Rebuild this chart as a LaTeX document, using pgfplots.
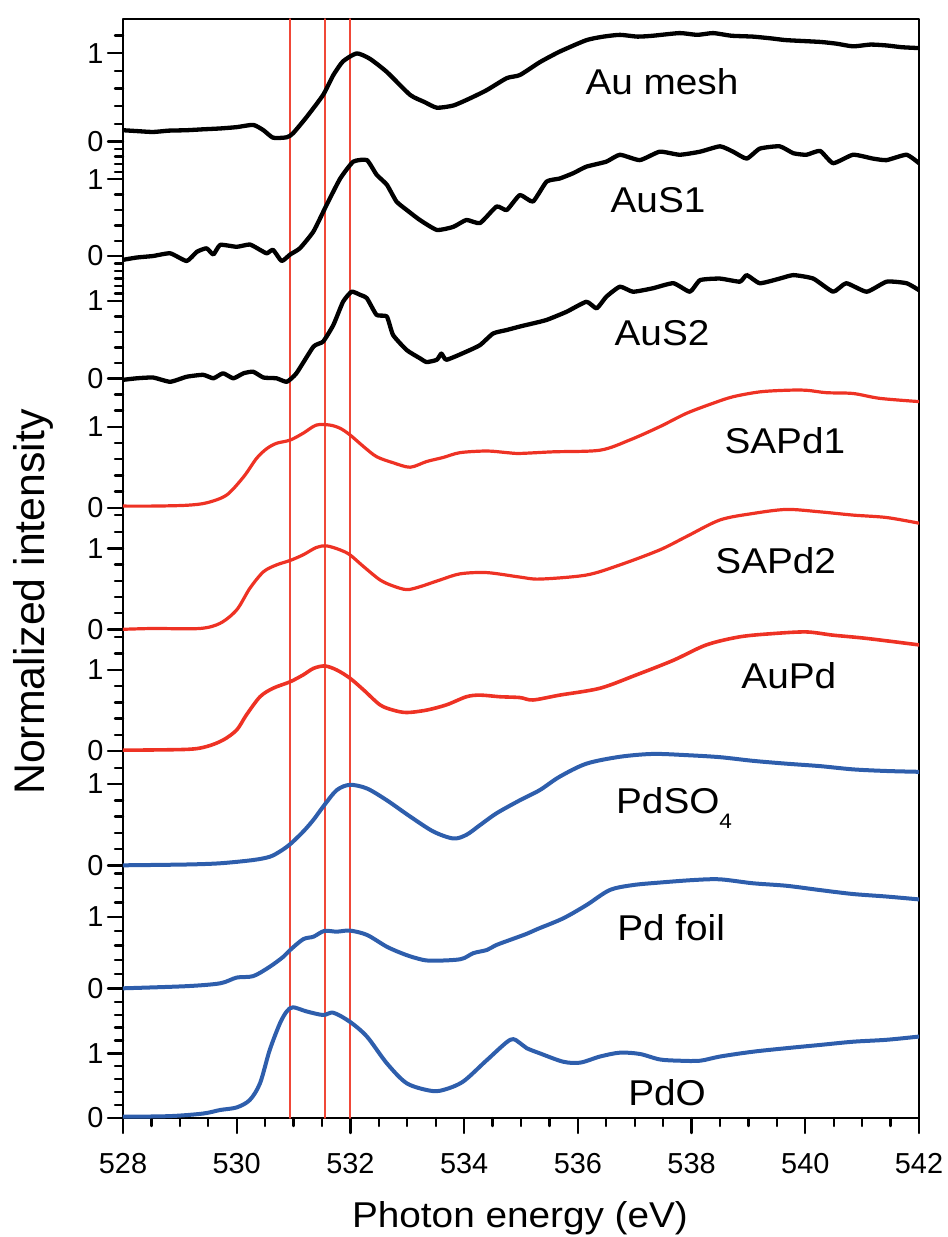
\documentclass[border=0pt]{standalone}
\usepackage{fontspec}
\setmainfont{Liberation Sans}
\newfontfamily\sfont{Liberation Sans}
\newfontfamily\stfont{Liberation Sans}[FakeStretch=1.08]
\usepackage{pgfplots}
\usepackage{pgfplotstable}
\pgfplotsset{compat=1.18}
\definecolor{cred}{RGB}{238,50,36}
\definecolor{cblue}{RGB}{46,94,172}
\definecolor{vline}{RGB}{240,72,56}

\pgfplotstableread{
E v
528.00 0.13
528.25 0.12
528.53 0.11
528.80 0.125
529.12 0.13
529.40 0.14
529.71 0.15
530.00 0.165
530.29 0.19
530.47 0.13
530.64 0.045
530.88 0.05
530.99 0.095
531.23 0.28
531.52 0.53
531.70 0.755
531.87 0.91
532.11 1.0
532.34 0.94
532.64 0.79
533.05 0.53
533.30 0.45
533.52 0.385
533.81 0.41
534.10 0.49
534.40 0.585
534.75 0.72
534.98 0.755
535.33 0.9
535.68 1.02
536.15 1.15
536.45 1.19
536.74 1.21
537.05 1.19
537.32 1.20
537.79 1.23
538.10 1.21
538.38 1.23
538.70 1.20
539.08 1.19
539.40 1.17
539.67 1.15
540.26 1.13
540.55 1.11
540.84 1.08
541.15 1.10
541.43 1.09
541.70 1.07
542.00 1.06
}\aumesh

\pgfplotstableread{
E v
528.00 -0.05
528.24 -0.02
528.53 0.0
528.83 0.035
529.12 -0.065
529.30 0.055
529.47 0.1
529.59 0.02
529.71 0.145
530.00 0.12
530.23 0.15
530.41 0.08
530.53 0.035
530.64 0.08
530.79 -0.065
530.94 0.02
531.11 0.1
531.35 0.32
531.58 0.665
531.82 1.01
532.05 1.23
532.29 1.25
532.46 1.06
532.64 0.93
532.81 0.71
532.99 0.6
533.22 0.47
533.52 0.34
533.81 0.38
534.04 0.47
534.28 0.43
534.57 0.645
534.75 0.6
534.98 0.795
535.21 0.71
535.45 0.97
535.68 1.01
535.92 1.08
536.15 1.165
536.50 1.23
536.74 1.32
537.09 1.25
537.44 1.36
537.79 1.32
538.15 1.36
538.50 1.43
538.73 1.36
538.97 1.27
539.20 1.40
539.55 1.43
539.79 1.34
540.02 1.32
540.26 1.37
540.49 1.21
540.84 1.32
541.19 1.27
541.43 1.25
541.78 1.32
542.00 1.21
}\aussone

\pgfplotstableread{
E v
528.00 -0.02
528.24 0.0
528.53 0.01
528.83 -0.045
529.12 0.02
529.41 0.045
529.59 0.0
529.76 0.065
529.94 0.0
530.12 0.065
530.29 0.085
530.47 0.01
530.70 0.0
530.88 -0.045
531.05 0.065
531.35 0.41
531.52 0.475
531.70 0.69
531.87 0.99
532.02 1.12
532.17 1.08
532.29 1.035
532.46 0.82
532.64 0.80
532.75 0.56
532.99 0.365
533.22 0.26
533.34 0.21
533.52 0.24
533.60 0.32
533.69 0.24
534.04 0.345
534.28 0.43
534.51 0.58
534.75 0.625
534.98 0.67
535.21 0.71
535.45 0.755
535.80 0.86
536.15 0.99
536.33 0.905
536.50 1.055
536.74 1.185
536.97 1.12
537.32 1.165
537.68 1.23
537.97 1.12
538.15 1.27
538.50 1.29
538.85 1.25
538.97 1.335
539.20 1.23
539.55 1.29
539.79 1.335
540.14 1.29
540.49 1.12
540.72 1.23
541.08 1.12
541.43 1.25
541.78 1.23
542.00 1.14
}\aussec

\pgfplotstableread{
E v
528.00 0.02
528.53 0.02
529.12 0.03
529.47 0.06
529.82 0.155
530.12 0.38
530.35 0.61
530.53 0.73
530.70 0.795
530.94 0.835
531.17 0.92
531.40 1.02
531.64 1.02
531.82 0.98
531.99 0.90
532.23 0.755
532.46 0.63
532.75 0.555
533.05 0.50
533.34 0.57
533.63 0.62
533.93 0.68
534.40 0.70
534.75 0.68
534.98 0.67
535.57 0.69
536.39 0.71
536.91 0.835
537.44 1.0
537.91 1.165
538.38 1.29
538.73 1.37
539.20 1.43
539.67 1.45
540.02 1.45
540.37 1.42
540.84 1.41
541.31 1.35
542.00 1.31
}\sapdone

\pgfplotstableread{
E v
528.00 0.0
528.53 0.01
529.35 0.01
529.71 0.075
530.00 0.24
530.23 0.505
530.47 0.71
530.70 0.795
530.94 0.85
531.17 0.92
531.40 1.01
531.58 1.03
531.82 0.98
531.99 0.92
532.23 0.775
532.52 0.61
532.75 0.535
532.99 0.49
533.22 0.525
533.58 0.61
533.93 0.685
534.40 0.70
534.98 0.645
535.33 0.62
536.15 0.67
536.74 0.795
537.44 0.98
537.91 1.145
538.50 1.35
539.08 1.43
539.67 1.48
540.26 1.45
540.84 1.41
541.43 1.38
542.00 1.31
}\sapdtwo

\pgfplotstableread{
E v
528.00 0.01
529.12 0.02
529.47 0.055
529.76 0.135
530.00 0.26
530.17 0.445
530.41 0.67
530.64 0.775
530.94 0.855
531.17 0.94
531.35 1.02
531.55 1.05
531.76 1.0
531.99 0.90
532.23 0.755
532.52 0.57
532.75 0.505
532.99 0.475
533.34 0.505
533.69 0.57
534.04 0.67
534.28 0.69
534.63 0.67
534.98 0.66
535.21 0.63
535.68 0.69
536.39 0.775
537.03 0.94
537.68 1.12
538.26 1.31
538.85 1.41
539.44 1.45
540.02 1.47
540.49 1.43
541.08 1.39
542.00 1.31
}\aupd

\pgfplotstableread{
E v
528.00 0.0
529.12 0.01
529.71 0.025
530.29 0.065
530.58 0.105
530.76 0.17
530.94 0.26
531.17 0.415
531.35 0.56
531.54 0.74
531.76 0.925
531.99 0.99
532.29 0.945
532.64 0.80
533.05 0.60
533.46 0.415
533.81 0.33
534.04 0.375
534.28 0.495
534.57 0.64
534.98 0.80
535.33 0.925
535.68 1.09
536.15 1.25
536.74 1.335
537.32 1.37
537.91 1.355
538.50 1.33
539.08 1.285
539.67 1.25
540.26 1.22
540.84 1.18
541.43 1.16
542.00 1.15
}\pdso

\pgfplotstableread{
E v
528.00 0.0
529.12 0.03
529.71 0.07
530.00 0.15
530.29 0.17
530.58 0.30
530.82 0.44
530.94 0.535
531.17 0.685
531.35 0.72
531.54 0.80
531.76 0.79
531.99 0.805
532.29 0.745
532.64 0.58
532.93 0.48
533.16 0.42
533.40 0.385
533.93 0.405
534.16 0.49
534.40 0.535
534.57 0.605
534.86 0.69
535.10 0.76
535.30 0.83
535.74 0.975
536.15 1.16
536.56 1.37
536.97 1.44
537.44 1.475
538.03 1.51
538.50 1.52
539.08 1.465
539.67 1.43
540.26 1.37
540.84 1.315
541.43 1.28
542.00 1.24
}\pdfoil

\pgfplotstableread{
E v
528.00 0.015
528.83 0.025
529.41 0.065
529.71 0.12
530.00 0.16
530.23 0.275
530.41 0.535
530.58 1.05
530.76 1.465
530.88 1.65
530.99 1.715
531.23 1.65
531.52 1.595
531.70 1.63
531.99 1.49
532.29 1.26
532.64 0.845
532.99 0.535
533.40 0.42
533.63 0.43
533.98 0.56
534.40 0.895
534.81 1.21
534.98 1.16
535.10 1.08
535.33 1.0
535.74 0.87
536.04 0.855
536.39 0.95
536.74 1.01
537.09 0.99
537.44 0.905
537.79 0.885
538.15 0.885
538.50 0.95
539.08 1.025
539.67 1.08
540.26 1.13
540.84 1.18
541.43 1.21
542.00 1.26
}\pdo

\begin{document}
\begin{tikzpicture}
\useasboundingbox (-123bp,-119bp) rectangle (825bp,1118bp);
\begin{axis}[
  scale only axis, width=796bp, height=1099bp,
  xmin=528, xmax=542, ymin=19, ymax=1118, y dir=reverse,
  axis line style={line width=2.4bp},
  xtick={528,530,...,542}, minor x tick num=3,
  xtick pos=bottom, ytick pos=left,
  tick align=outside,
  major tick length=15bp, minor tick length=8bp,
  tick style={black, line width=2.4bp},
  ytick={53.3,141.7,179.3,256,301,378.3,426.7,507.7,548.3,629.3,670,751,784,865.3,916.7,988.3,1053.3,1117.7},
  yticklabels={1,0,1,0,1,0,1,0,1,0,1,0,1,0,1,0,1,0},
  minor ytick={35.6,71,88.6,106.3,124,149.2,156.7,164.3,171.8,194.6,210,225.3,240.7,263.5,271,278.5,286,293.5,316.5,331.9,347.4,362.8,394.4,410.5,442.9,459.1,475.3,491.5,515,532,564.5,580.7,596.9,613.1,636.7,653.3,686.2,702.4,718.6,734.8,768,800.3,816.5,832.8,849,873.6,888,902.4,931,945.3,959.7,974,1001.8,1014.7,1027.5,1040.4,1066.2,1079.1,1091.9,1104.8},
  ticklabel style={font=\sfont\fontsize{29}{29}\selectfont},
  xticklabel style={yshift=-17bp},
  yticklabel style={xshift=-1bp},
  /pgf/number format/assume math mode=true,
  /pgf/number format/1000 sep={},
  line join=round, line cap=round,
]
\addplot[vline, line width=1.9bp] coordinates {(530.94,19) (530.94,1118)};
\addplot[vline, line width=1.9bp] coordinates {(531.55,19) (531.55,1118)};
\addplot[vline, line width=1.9bp] coordinates {(532.00,19) (532.00,1118)};

\addplot[black, line width=4.3bp, smooth, tension=0.35] table[x=E, y expr={141.7-88.3*\thisrow{v}}] {\aumesh};
\addplot[black, line width=4.3bp, smooth, tension=0.3] table[x=E, y expr={256-76.7*\thisrow{v}}] {\aussone};
\addplot[black, line width=4.3bp, smooth, tension=0.3] table[x=E, y expr={378.3-77.3*\thisrow{v}}] {\aussec};
\addplot[cred, line width=3.2bp, smooth, tension=0.5] table[x=E, y expr={507.7-81*\thisrow{v}}] {\sapdone};
\addplot[cred, line width=3.2bp, smooth, tension=0.5] table[x=E, y expr={629.3-81*\thisrow{v}}] {\sapdtwo};
\addplot[cred, line width=3.6bp, smooth, tension=0.5] table[x=E, y expr={751-81*\thisrow{v}}] {\aupd};
\addplot[cblue, line width=4bp, smooth, tension=0.5] table[x=E, y expr={865.3-81.3*\thisrow{v}}] {\pdso};
\addplot[cblue, line width=4bp, smooth, tension=0.5] table[x=E, y expr={988.3-71.7*\thisrow{v}}] {\pdfoil};
\addplot[cblue, line width=4bp, smooth, tension=0.5] table[x=E, y expr={1117.7-64.4*\thisrow{v}}] {\pdo};

\begin{scope}[every node/.style={font=\stfont\fontsize{36}{36}\selectfont, anchor=base, inner sep=0pt}]
\node at (axis cs:537.48,95) {Au mesh};
\node at (axis cs:537.41,212) {AuS1};
\node at (axis cs:537.48,345) {AuS2};
\node at (axis cs:539.64,453) {SAPd1};
\node at (axis cs:539.48,573) {SAPd2};
\node at (axis cs:539.71,688) {AuPd};
\node[anchor=base west] at (axis cs:536.67,813) {PdSO\raisebox{-15bp}{\fontsize{21}{21}\selectfont 4}};
\node at (axis cs:537.64,940) {Pd foil};
\node at (axis cs:537.57,1105) {PdO};
\end{scope}
\end{axis}
\node[rotate=90, anchor=base, inner sep=0pt, font=\fontsize{43}{43}\selectfont] at (-78bp,516bp) {Normalized intensity};
\node[anchor=base, inner sep=0pt, font=\stfont\fontsize{36}{36}\selectfont] at (397bp,-109bp) {Photon energy (eV)};
\end{tikzpicture}
\end{document}
